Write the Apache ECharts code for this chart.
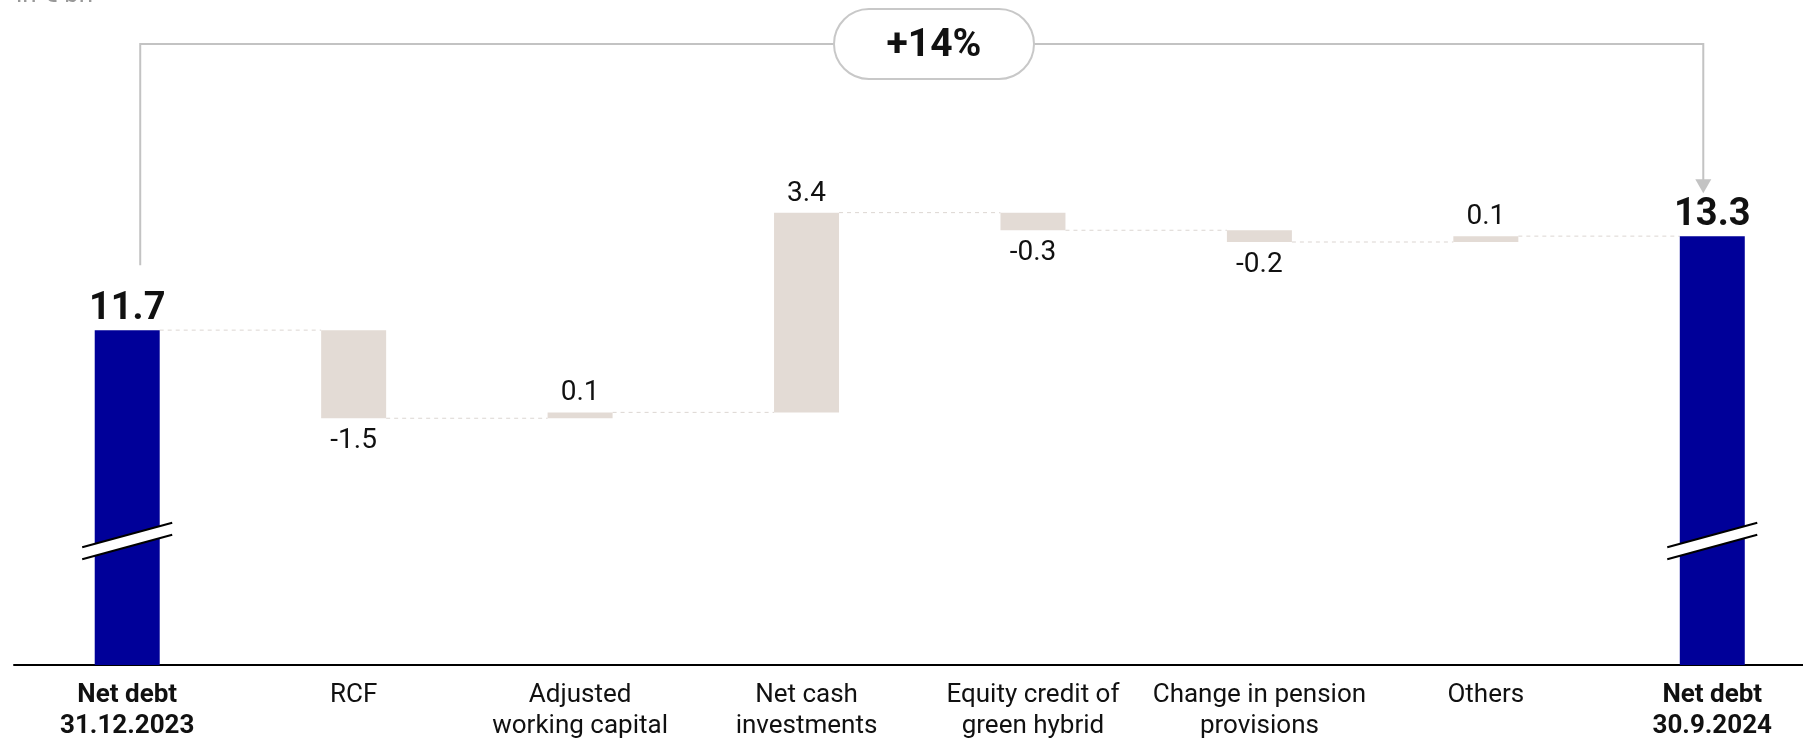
<!DOCTYPE html>
<html>
<head>
<meta charset="utf-8">
<script src="https://cdn.jsdelivr.net/npm/echarts@6/dist/echarts.min.js"></script>
<style>
  html, body { margin: 0; padding: 0; background: #fff; }
  #chart { width: 1803px; height: 738px; }
</style>
</head>
<body>
<div id="chart"></div>
<script>
// data
const categories = ['Net debt\n31.12.2023', 'RCF', 'Adjusted\nworking capital', 'Net cash\ninvestments',
  'Equity credit of\ngreen hybrid', 'Change in pension\nprovisions', 'Others', 'Net debt\n30.9.2024'];
const values = [11.7, -1.5, 0.1, 3.4, -0.3, -0.2, 0.1, 13.3];
const isTotal = [true, false, false, false, false, false, false, true];
const axisMin = 6;   // broken axis, bars start at the baseline
const axisMax = 16;
const changeLabel = '+14%';
const unitLabel = 'in € bn';

const FONT = 'Roboto';
const BLUE = '#000099';
const BEIGE = '#e3dbd5';

// build waterfall rows: [index, low, high, value, total]
let running = 0;
const bars = [];
const levels = [];
values.forEach((v, i) => {
  if (isTotal[i]) {
    running = v;
    bars.push([i, axisMin, v, v, 1]);
  } else {
    const lo = Math.min(running, running + v);
    const hi = Math.max(running, running + v);
    running = Math.round((running + v) * 10) / 10;
    bars.push([i, lo, hi, v, 0]);
  }
  levels.push([i, running]);
});
const connectors = levels.slice(0, -1);

const chart = echarts.init(document.getElementById('chart'));

function renderBar(params, api) {
  const i = api.value(0);
  const lo = api.coord([i, api.value(1)]);
  const hi = api.coord([i, api.value(2)]);
  const v = api.value(3);
  const total = api.value(4) === 1;
  const w = api.size([1, 0])[0] * 0.287;
  const cx = lo[0];
  const children = [{
    type: 'rect',
    shape: { x: cx - w / 2, y: hi[1], width: w, height: Math.max(lo[1] - hi[1], 2) },
    style: { fill: total ? BLUE : BEIGE }
  }];
  const txt = v.toFixed(1);
  if (v >= 0) {
    children.push({
      type: 'text',
      style: {
        x: cx, y: hi[1] - (total ? 2 : 5), text: txt, align: 'center', verticalAlign: 'bottom',
        font: (total ? 'bold 38px ' : '28px ') + FONT, fill: '#111'
      }
    });
  } else {
    children.push({
      type: 'text',
      style: {
        x: cx, y: lo[1] + 9, text: txt, align: 'center', verticalAlign: 'top',
        font: '28px ' + FONT, fill: '#111'
      }
    });
  }
  if (total) {
    // axis break marks
    const by = api.coord([i, axisMin])[1] - 124;
    const k = -0.272, hw = 45;
    const p = (x, off) => [cx + x, by + off + k * x];
    children.push({
      type: 'polygon',
      shape: { points: [p(-hw, -6), p(hw, -6), p(hw, 6), p(-hw, 6)] },
      style: { fill: '#fff' }
    });
    children.push({
      type: 'line', shape: { x1: p(-hw, -6)[0], y1: p(-hw, -6)[1], x2: p(hw, -6)[0], y2: p(hw, -6)[1] },
      style: { stroke: '#000', lineWidth: 2 }
    });
    children.push({
      type: 'line', shape: { x1: p(-hw, 6)[0], y1: p(-hw, 6)[1], x2: p(hw, 6)[0], y2: p(hw, 6)[1] },
      style: { stroke: '#000', lineWidth: 2 }
    });
  }
  return { type: 'group', children: children };
}

function renderConnector(params, api) {
  const i = api.value(0);
  const a = api.coord([i, api.value(1)]);
  const b = api.coord([i + 1, api.value(1)]);
  const w = api.size([1, 0])[0] * 0.287;
  return {
    type: 'line',
    shape: { x1: a[0] + w / 2, y1: a[1], x2: b[0] - w / 2, y2: b[1] },
    style: { stroke: '#dcd6d2', lineWidth: 1, lineDash: [4, 4] }
  };
}

chart.setOption({
  animation: false,
  backgroundColor: '#fff',
  textStyle: { fontFamily: FONT },
  grid: { left: 14, right: -22.5, top: 77.5, bottom: 73, outerBoundsMode: 'none', containLabel: false },
  xAxis: {
    type: 'category',
    data: categories,
    axisLine: { onZero: false, lineStyle: { color: '#000', width: 2 } },
    axisTick: { show: false },
    axisLabel: {
      interval: 0,
      margin: 15,
      color: '#111',
      fontSize: 26,
      lineHeight: 31,
      formatter: function (val, idx) {
        if (isTotal[idx]) return val.split('\n').map(s => '{b|' + s + '}').join('\n');
        return val;
      },
      rich: { b: { fontWeight: 'bold', fontSize: 26, lineHeight: 31, color: '#111' } }
    }
  },
  yAxis: { type: 'value', min: axisMin, max: axisMax, show: false, splitLine: { show: false } },
  series: [
    {
      type: 'custom', name: 'connectors', renderItem: renderConnector,
      encode: { x: 0, y: 1 }, data: connectors, z: 1, silent: true
    },
    {
      type: 'custom', name: 'bars', renderItem: renderBar,
      encode: { x: 0, y: [1, 2] }, data: bars, z: 2, silent: true
    }
  ]
});

// bracket with change pill
const first = chart.convertToPixel({ gridIndex: 0 }, [0, values[0]]);
const last = chart.convertToPixel({ gridIndex: 0 }, [values.length - 1, values[values.length - 1]]);
const lx = first[0] + 13, rx = last[0] - 9, ty = 44;
const pillCx = 934, pillW = 200, pillH = 70;
chart.setOption({
  graphic: [
    {
      type: 'polyline', z: 10,
      shape: { points: [[lx, first[1] - 65], [lx, ty], [rx, ty], [rx, last[1] - 50]] },
      style: { stroke: '#c3c3c3', lineWidth: 2, fill: null }
    },
    {
      type: 'polygon', z: 10,
      shape: { points: [[rx - 8, last[1] - 57], [rx + 8, last[1] - 57], [rx, last[1] - 43]] },
      style: { fill: '#c3c3c3' }
    },
    {
      type: 'rect', z: 11,
      shape: { x: pillCx - pillW / 2, y: ty - pillH / 2, width: pillW, height: pillH, r: pillH / 2 },
      style: { fill: '#fff', stroke: '#c8c8c8', lineWidth: 2 }
    },
    {
      type: 'text', z: 12,
      style: { x: pillCx, y: ty + 2, text: changeLabel, align: 'center', verticalAlign: 'middle',
        font: 'bold 39px ' + FONT, fill: '#111' }
    },
    {
      type: 'text', z: 12,
      style: { x: 16, y: 8, text: unitLabel, align: 'left', verticalAlign: 'bottom',
        font: '26px ' + FONT, fill: '#999' }
    }
  ]
});
</script>
</body>
</html>
